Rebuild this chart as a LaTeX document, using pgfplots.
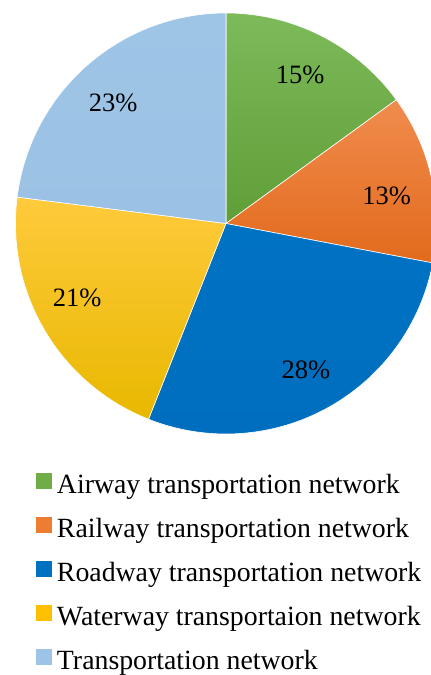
\documentclass[border=0pt]{standalone}
\usepackage{pgfplots}
\pgfplotsset{compat=1.18}
\usepackage{pgfplotstable}
\usepackage{fontspec}
\setmainfont{Liberation Serif}

\definecolor{grT}{RGB}{125,186,90}
\definecolor{grB}{RGB}{95,158,55}
\definecolor{orT}{RGB}{240,140,78}
\definecolor{orB}{RGB}{226,106,28}
\definecolor{blT}{RGB}{0,114,196}
\definecolor{blB}{RGB}{0,110,190}
\definecolor{yeT}{RGB}{255,202,60}
\definecolor{yeB}{RGB}{232,184,0}
\definecolor{lbT}{RGB}{158,196,230}
\definecolor{lbB}{RGB}{155,193,228}

\newcommand\legfont{\fontsize{27.8bp}{33bp}\selectfont}
\newcommand\pctfont{\fontsize{26.5bp}{31bp}\selectfont}

\pgfplotsset{sq legend/.style={legend image code/.code={\fill[##1,draw=none] (0bp,-2bp) rectangle (16bp,14bp);}}}

\begin{document}
\begin{tikzpicture}
  % share of each network, clockwise from 12 o'clock; label angle / distance from centre
  \pgfplotstableread{
  value top bottom lang ldist
  15 grT grB 63.5 166
  13 orT orB 9.7 163
  28 blT blB -61.4 167
  21 yeT yeB 206.6 166.6
  23 lbT lbB 133.2 165
  }\piedata
  % build the wedges from the table
  \def\cum{0}
  \def\slices{}
  \pgfplotsforeachungrouped \i in {0,...,4}{%
    \pgfplotstablegetelem{\i}{value}\of\piedata \let\val\pgfplotsretval
    \pgfplotstablegetelem{\i}{top}\of\piedata \let\ct\pgfplotsretval
    \pgfplotstablegetelem{\i}{bottom}\of\piedata \let\cb\pgfplotsretval
    \pgfplotstablegetelem{\i}{lang}\of\piedata \let\la\pgfplotsretval
    \pgfplotstablegetelem{\i}{ldist}\of\piedata \let\ld\pgfplotsretval
    \pgfmathsetmacro\aS{90-3.6*\cum}%
    \pgfmathsetmacro\aE{90-3.6*(\cum+\val)}%
    \pgfmathsetmacro\cum{\cum+\val}%
    \edef\temp{%
      \noexpand\path[draw=white, line width=0.6bp, top color=\ct, bottom color=\cb]
        (axis cs:0,0) -- ++(\aS:210.5bp) arc[start angle=\aS, end angle=\aE, radius=210.5bp] -- cycle;
      \noexpand\path (axis cs:0,0) ++(\la:\ld bp) node[font=\noexpand\pctfont] {\val\noexpand\%};}%
    \xdef\slices{\unexpanded\expandafter{\slices}\unexpanded\expandafter{\temp}}%
  }
  \begin{axis}[
    name=pie,
    scale only axis,
    width=431bp, height=675bp,
    xmin=-226, xmax=205,
    ymin=-451.5, ymax=223.5,
    hide axis,
    legend cell align=left,
    legend style={draw=none, fill=none, inner sep=0pt, outer sep=0pt,
      at={(axis description cs:0.0835,0.2993)}, anchor=north west,
      row sep=16.4bp, column sep=5bp,
      nodes={font=\legfont, inner sep=0pt, text height=20bp, text depth=7bp}},
  ]
    \slices
    \addlegendimage{sq legend, fill={rgb,255:red,112;green,173;blue,71}}
    \addlegendentry{Airway transportation network}
    \addlegendimage{sq legend, fill={rgb,255:red,237;green,125;blue,49}}
    \addlegendentry{Railway transportation network}
    \addlegendimage{sq legend, fill={rgb,255:red,0;green,112;blue,192}}
    \addlegendentry{Roadway transportation network}
    \addlegendimage{sq legend, fill={rgb,255:red,255;green,192;blue,0}}
    \addlegendentry{Waterway transportaion network}
    \addlegendimage{sq legend, fill={rgb,255:red,157;green,195;blue,230}}
    \addlegendentry{Transportation network}
  \end{axis}
  \pgfresetboundingbox
  \useasboundingbox (pie.south west) rectangle (pie.north east);
\end{tikzpicture}
\end{document}
